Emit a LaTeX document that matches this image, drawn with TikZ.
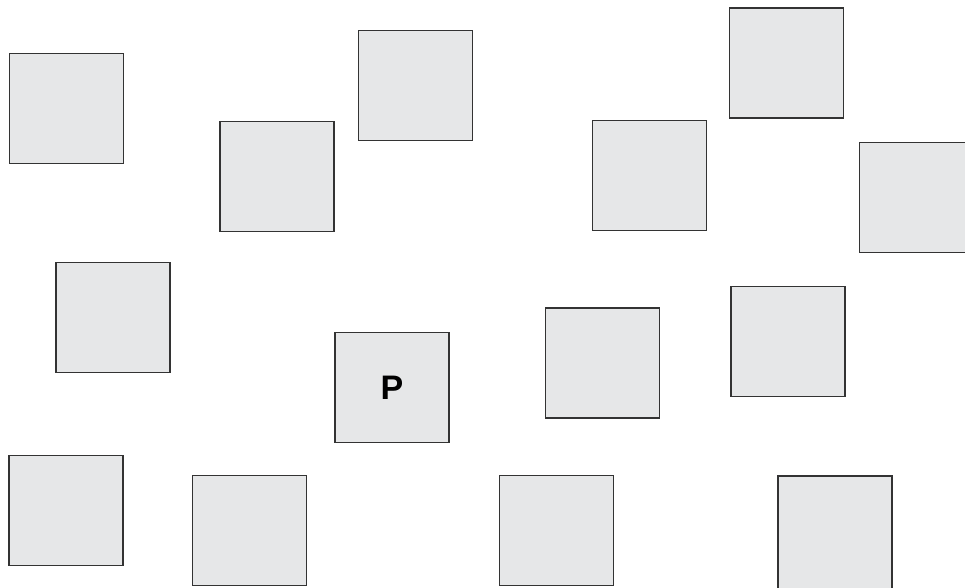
\documentclass[tikz,border=0pt]{standalone}
\usepackage{fontspec}
\setmainfont{Liberation Sans}
\definecolor{boxfill}{HTML}{E6E7E8}
\definecolor{boxline}{HTML}{333333}
\begin{document}
\begin{tikzpicture}[x=1pt,y=-1pt,
  sq/.style={rectangle,draw=boxline,fill=boxfill,line width=1.3pt,inner sep=0pt,outer sep=0pt,minimum width=114pt,minimum height=110pt}]
\useasboundingbox (0,0) rectangle (965,587);
\clip (0,0) rectangle (965,587);
\node[sq] (s1) at (66.5,108.5) {};
\node[sq] (s2) at (277,176.5) {};
\node[sq] (s3) at (415.5,85.5) {};
\node[sq] (s4) at (649.5,175.5) {};
\node[sq] (s5) at (786.5,63) {};
\node[sq] (s6) at (916.5,197.5) {};
\node[sq] (s7) at (113,317.5) {};
\node[sq,font=\fontsize{34}{34}\selectfont\bfseries] (p) at (392,387.5) {P};
\node[sq] (s9) at (602.5,363) {};
\node[sq] (s10) at (788,341.5) {};
\node[sq] (s11) at (66,510.5) {};
\node[sq] (s12) at (249.5,530.5) {};
\node[sq] (s13) at (556.5,530.5) {};
\node[sq,minimum height=116pt] (s14) at (835,534) {};
\end{tikzpicture}
\end{document}
